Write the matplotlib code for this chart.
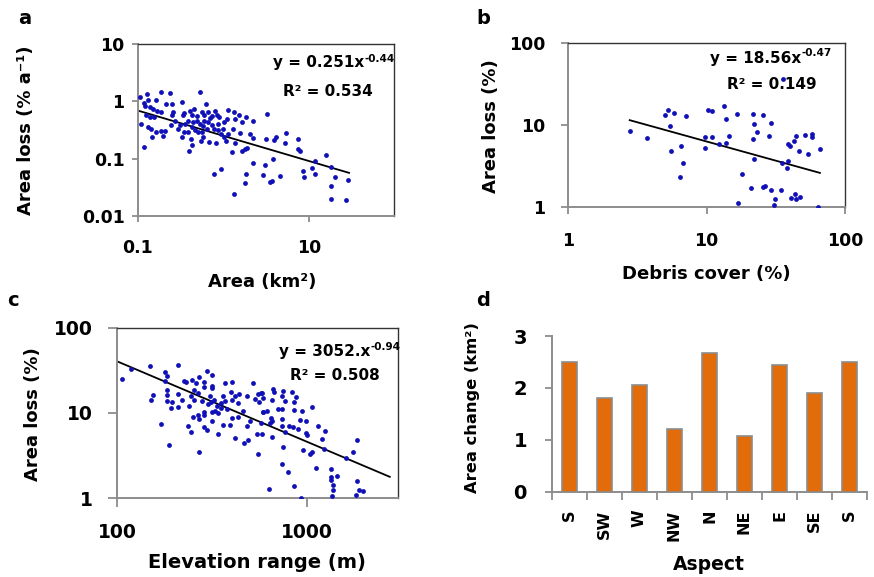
import matplotlib
matplotlib.use("Agg")
import matplotlib.pyplot as plt
from matplotlib.ticker import FixedLocator, FixedFormatter

plt.rcParams['font.family'] = ['DejaVu Sans']
plt.rcParams['font.weight'] = 'bold'

# (a) glacier area vs annual area loss
area_km2 = [0.106, 0.127, 0.187, 0.236, 0.539, 0.119, 0.133, 0.162, 0.216, 0.249,
            0.326, 0.628, 0.122, 0.139, 0.152, 0.167, 0.187, 0.256, 0.351, 0.408,
            0.459, 0.558, 0.668, 0.80, 1.14, 1.34, 1.52, 1.87, 0.124, 0.139,
            0.155, 0.249, 0.341, 0.434, 0.488, 0.60, 0.731, 0.836, 0.898, 0.109,
            0.133, 0.143, 0.162, 0.187, 0.208, 0.245, 0.273, 0.312, 0.357, 0.39,
            0.447, 0.488, 0.534, 0.60, 0.668, 0.731, 0.874, 1.03, 1.12, 1.37,
            1.67, 2.24, 0.146, 0.20, 0.351, 0.39, 0.467, 0.51, 0.558, 0.638,
            0.785, 0.859, 1.0, 1.14, 1.31, 1.57, 2.05, 0.326, 0.42, 0.548,
            0.584, 0.687, 0.82, 1.03, 1.09, 1.39, 2.24, 0.12, 0.427, 0.397,
            1.27, 1.64, 1.79, 1.91, 2.24, 0.93, 0.77, 1.85, 1.79, 1.32,
            2.88, 3.24, 3.18, 3.94, 4.12, 5.44, 5.29, 7.57, 7.44, 7.92,
            15.7, 11.9, 18.1, 3.77, 3.09, 4.63, 3.70, 3.54, 8.67, 10.8,
            11.9, 8.83, 20.3, 29.0, 18.1, 18.1, 27.3, 0.434, 0.584, 0.94,
            0.293, 0.70]
loss_rate = [1.19, 1.33, 1.46, 1.40, 1.44, 0.935, 1.04, 1.04, 0.90, 0.90,
             0.97, 0.90, 0.83, 0.79, 0.74, 0.69, 0.65, 0.65, 0.62, 0.69,
             0.74, 0.65, 0.65, 0.67, 0.71, 0.65, 0.58, 0.54, 0.57, 0.53,
             0.54, 0.57, 0.57, 0.58, 0.55, 0.57, 0.55, 0.57, 0.53, 0.40,
             0.35, 0.33, 0.29, 0.30, 0.30, 0.39, 0.46, 0.38, 0.40, 0.46,
             0.43, 0.46, 0.40, 0.46, 0.43, 0.38, 0.40, 0.43, 0.49, 0.49,
             0.43, 0.46, 0.235, 0.244, 0.296, 0.29, 0.31, 0.29, 0.296, 0.33,
             0.33, 0.31, 0.33, 0.27, 0.33, 0.28, 0.27, 0.235, 0.22, 0.205,
             0.235, 0.197, 0.19, 0.235, 0.205, 0.19, 0.225, 0.163, 0.172, 0.137,
             0.131, 0.137, 0.146, 0.156, 0.085, 0.065, 0.055, 0.053, 0.038, 0.0244,
             0.051, 0.605, 0.22, 0.213, 0.241, 0.276, 0.19, 0.22, 0.15, 0.137,
             0.115, 0.0897, 0.071, 0.10, 0.079, 0.049, 0.040, 0.039, 0.062, 0.069,
             0.055, 0.048, 0.048, 0.043, 0.033, 0.0197, 0.019, 0.35, 0.37, 0.27,
             0.33, 0.51]
fit_a = (0.251, -0.44)
fit_a_x = [0.1, 29.6]

# (b) debris cover vs area loss
debris_pct = [2.79, 3.73, 5.0, 5.31, 5.43, 5.5, 5.8, 6.5, 6.45, 6.8,
              7.1, 9.8, 9.8, 10.2, 10.9, 11.0, 12.4, 13.3, 13.8, 13.9,
              14.6, 16.5, 16.9, 18.0, 21.1, 21.5, 22.1, 21.7, 22.2, 23.0,
              25.4, 25.4, 26.3, 28.1, 29.0, 29.3, 31.2, 30.9, 34.3, 34.8,
              35.4, 37.9, 38.9, 38.5, 39.8, 40.7, 42.8, 43.7, 44.0, 44.5,
              46.7, 47.6, 51.7, 54.0, 57.4, 57.4, 63.4, 65.9]
debris_loss = [8.5, 7.0, 13.4, 15.3, 9.6, 4.8, 14.2, 5.6, 2.3, 3.46,
               12.9, 7.1, 5.2, 15.3, 15.0, 7.1, 5.85, 17.3, 11.8, 6.1,
               7.4, 13.6, 1.1, 2.5, 1.68, 13.6, 10.3, 6.7, 3.84, 8.2,
               13.4, 1.76, 1.79, 7.3, 10.5, 1.6, 1.23, 1.05, 1.6, 3.4,
               36.6, 2.95, 3.6, 5.85, 5.6, 1.26, 6.3, 1.42, 7.3, 1.23,
               4.8, 1.30, 7.5, 4.46, 7.7, 7.2, 1.0, 5.13]
fit_b = (18.56, -0.47)
fit_b_x = [2.79, 65.9]

# (c) elevation range vs area loss
elev_range = [106, 118, 149, 208, 179, 182, 179, 155, 150, 182,
              184, 184, 195, 191, 171, 210, 208, 220, 187, 226,
              231, 247, 259, 270, 288, 297, 318, 318, 317, 255,
              286, 268, 245, 255, 239, 308, 312, 324, 371, 402,
              360, 335, 353, 371, 398, 405, 418, 439, 433, 482,
              519, 533, 556, 578, 560, 586, 463, 378, 353, 328,
              315, 288, 268, 288, 315, 270, 250, 235, 245, 288,
              297, 341, 363, 394, 402, 436, 418, 469, 492, 270,
              482, 502, 548, 551, 571, 281, 302, 339,
              667, 672, 753, 840, 879, 738, 653, 590, 571, 769,
              861, 703, 744, 853, 949, 1062, 615, 590, 648, 653,
              640, 738, 738, 810, 851, 896, 922, 990, 1153, 1250,
              990, 1000, 769, 653, 578, 960, 1042, 1071, 747, 1200,
              1240, 1607, 1750, 1845, 1119, 800, 744, 1344, 1344, 1452,
              1344, 1371, 1371, 1355, 1837, 1890, 1991, 1815, 929, 861,
              635]
elev_loss = [25.0, 33.1, 35.9, 36.8, 30.0, 27.4, 23.5, 16.4, 14.1, 18.7,
             16.1, 13.7, 13.3, 11.5, 7.5, 16.7, 11.8, 14.3, 4.18, 23.5,
             23.1, 24.2, 22.5, 26.4, 23.1, 30.8, 27.8, 20.9, 19.6, 18.7,
             20.0, 17.1, 15.7, 14.1, 12.2, 15.7, 13.5, 14.1, 22.5, 23.1,
             15.7, 12.0, 13.1, 13.7, 17.5, 14.3, 15.7, 16.7, 13.1, 15.7,
             22.5, 14.6, 16.7, 17.1, 13.5, 10.3, 10.5, 11.1, 11.6, 10.5,
             10.2, 10.2, 9.55, 9.4, 8.0, 8.5, 8.9, 7.1, 6.0, 6.85,
             6.3, 5.6, 7.3, 7.3, 8.7, 8.9, 5.1, 4.45, 4.87, 3.49,
             7.1, 8.0, 5.7, 3.31, 7.6, 13.7, 12.7, 10.0,
             19.3, 17.6, 17.9, 17.5, 15.4, 16.0, 14.1, 15.0, 17.1, 13.7,
             13.5, 11.1, 11.1, 10.9, 10.5, 11.8, 10.5, 10.3, 8.7, 8.0,
             7.6, 8.5, 7.1, 7.0, 6.85, 6.55, 8.2, 8.0, 7.1, 6.2,
             5.8, 5.47, 5.93, 5.19, 5.7, 3.65, 3.34, 3.52, 4.0, 4.96,
             3.79, 2.97, 3.46, 4.79, 2.26, 2.04, 2.55, 2.21, 1.78, 1.81,
             1.66, 1.45, 1.26, 1.05, 1.58, 1.24, 1.21, 1.09, 1.02, 1.41,
             1.30]
fit_c = (3052, -0.94)
fit_c_x = [100, 2750]

# (d) area change by aspect
aspects = ["S", "SW", "W", "NW", "N", "NE", "E", "SE", "S"]
area_change = [2.50, 1.81, 2.06, 1.21, 2.68, 1.07, 2.44, 1.90, 2.50]

DOT = "#1010B8"
GREY = "#8C8C8C"

fig = plt.figure(figsize=(8.74, 5.77), dpi=100)
W, H = 874.0, 577.0


def add_axes(x0, y0, x1, y1):
    return fig.add_axes([x0 / W, 1 - y1 / H, (x1 - x0) / W, (y1 - y0) / H])


def to_ax(ax, px, py):
    # figure pixel (top-left origin) -> axes fraction
    l, b, w, h = ax.get_position().bounds
    return (px / W - l) / w, (1 - py / H - b) / h


def style_log(ax, xt, yt, tick_len, xpad, ypad, fs):
    ax.set_xscale("log")
    ax.set_yscale("log")
    ax.xaxis.set_major_locator(FixedLocator(xt))
    ax.xaxis.set_major_formatter(FixedFormatter([f"{v:g}" for v in xt]))
    ax.yaxis.set_major_locator(FixedLocator(yt))
    ax.yaxis.set_major_formatter(FixedFormatter([f"{v:g}" for v in yt]))
    ax.minorticks_off()
    for s in ("left", "bottom"):
        ax.spines[s].set_color(GREY)
        ax.spines[s].set_linewidth(1.4)
    for s in ("top", "right"):
        ax.spines[s].set_color("#333333")
        ax.spines[s].set_linewidth(1.0)
    ax.tick_params(direction="out", length=tick_len, width=1.3, color=GREY,
                   labelsize=fs)
    ax.tick_params(axis="x", pad=xpad)
    ax.tick_params(axis="y", pad=ypad)
    for lab in ax.get_xticklabels() + ax.get_yticklabels():
        lab.set_fontweight("bold")


def labels(ax, xl, xpos, yl, ypos, xfs=13, yfs=13):
    ax.set_xlabel(xl, fontsize=xfs, fontweight="bold", va="center")
    ax.xaxis.set_label_coords(*to_ax(ax, *xpos))
    ax.set_ylabel(yl, fontsize=yfs, fontweight="bold", va="center")
    ax.yaxis.set_label_coords(*to_ax(ax, *ypos))


def powerline(ax, fit, xr):
    a, b = fit
    xs = [xr[0] * (xr[1] / xr[0]) ** (i / 50) for i in range(51)]
    ax.plot(xs, [a * x ** b for x in xs], color="black", lw=1.3)


def equation(ax, base, expo, pos, r2, r2pos):
    t = ax.text(*to_ax(ax, *pos), base, transform=ax.transAxes, ha="left",
                va="center", fontsize=11, fontweight="bold")
    ax.annotate(expo, xy=(1, 0.8), xycoords=t, xytext=(0.3, 0),
                textcoords="offset points", ha="left", va="center",
                fontsize=7.5, fontweight="bold")
    ax.text(*to_ax(ax, *r2pos), r2, transform=ax.transAxes, ha="center",
            va="center", fontsize=11, fontweight="bold")


# panel a
ax = add_axes(137.7, 44, 394.3, 216)
ax.scatter(area_km2, loss_rate, s=12, color=DOT, lw=0, zorder=3)
powerline(ax, fit_a, fit_a_x)
ax.set_xlim(0.1, 100)
ax.set_ylim(0.01, 10)
style_log(ax, [0.1, 10], [0.01, 0.1, 1, 10], 4.5, 12, 5, 12.5)
labels(ax, "Area (km²)", (262, 282), "Area loss (% a⁻¹)", (26, 130))
equation(ax, "y = 0.251x", "-0.44", (273, 63), "R² = 0.534", (328, 91))

# panel b
ax = add_axes(568, 43.3, 845, 206.7)
ax.scatter(debris_pct, debris_loss, s=12, color=DOT, lw=0, zorder=3)
powerline(ax, fit_b, fit_b_x)
ax.set_xlim(1, 100)
ax.set_ylim(1, 100)
style_log(ax, [1, 10, 100], [1, 10, 100], 5, 13, 11.5, 12.5)
labels(ax, "Debris cover (%)", (706, 274), "Area loss (%)", (491, 126))
equation(ax, "y = 18.56x", "-0.47", (710, 58), "R² = 0.149", (772, 85))

# panel c
ax = add_axes(117.3, 327.7, 398.3, 498.3)
ax.scatter(elev_range, elev_loss, s=12, color=DOT, lw=0, zorder=3)
powerline(ax, fit_c, fit_c_x)
ax.set_xlim(100, 3050)
ax.set_ylim(1, 100)
style_log(ax, [100, 1000], [1, 10, 100], 6.5, 11.5, 11, 13.5)
labels(ax, "Elevation range (m)", (257, 563), "Area loss (%)", (33, 414),
       xfs=14)
equation(ax, "y = 3052.x", "-0.94", (279, 352), "R² = 0.508", (335, 375))

# panel d
ax = add_axes(552, 336, 867, 491.7)
pos = list(range(len(aspects)))
ax.bar(pos, area_change, width=0.42, color="#E36C0A", edgecolor=GREY,
       linewidth=1.2, zorder=3)
ax.set_xlim(-0.5, len(aspects) - 0.5)
ax.set_ylim(0, 3)
ax.set_yticks([0, 1, 2, 3])
ax.set_yticklabels(["0", "1", "2", "3"])
ax.set_xticks(pos)
ax.set_xticklabels(aspects, rotation=90, fontsize=11.5, fontweight="bold")
ax.set_xticks([p - 0.5 for p in pos] + [len(aspects) - 0.5], minor=True)
ax.tick_params(axis="x", which="major", length=0, pad=13)
ax.tick_params(axis="x", which="minor", length=6, width=1.3, color=GREY)
ax.tick_params(axis="y", length=5, width=1.3, color=GREY, labelsize=14,
               pad=13)
for lab in ax.get_yticklabels():
    lab.set_fontweight("bold")
for s in ("top", "right"):
    ax.spines[s].set_visible(False)
for s in ("left", "bottom"):
    ax.spines[s].set_color(GREY)
    ax.spines[s].set_linewidth(1.4)
labels(ax, "Aspect", (709, 565), "Area change (km²)", (472, 408),
       xfs=13.5, yfs=11.7)

# panel letters
for lbl, (px, py) in zip("abcd", [(25, 18), (483, 18), (13, 300), (483, 300)]):
    fig.text(px / W, 1 - py / H, lbl, fontsize=14, fontweight="bold",
             ha="center", va="center")

fig.savefig("out.png", dpi=100)
